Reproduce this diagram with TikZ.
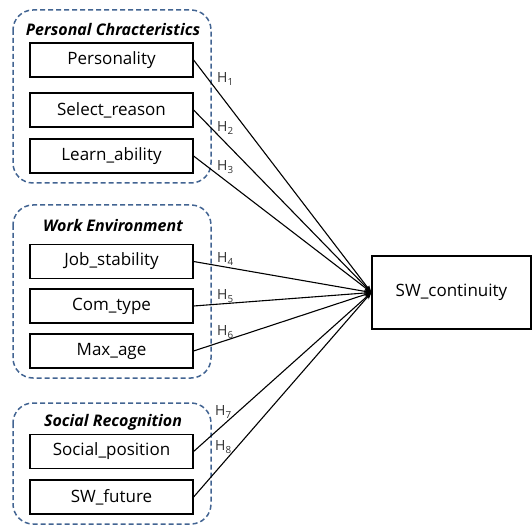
\documentclass[tikz,border=0pt]{standalone}
\usepackage{fontspec}
\setmainfont{Open Sans}
\usetikzlibrary{arrows.meta}
\definecolor{grpblue}{RGB}{66,100,146}
\definecolor{hgray}{RGB}{50,50,50}
\begin{document}
\begin{tikzpicture}[x=1pt,y=-1pt,
  varbox/.style={draw=black,line width=1.2pt,minimum width=163pt,minimum height=34pt,inner sep=0pt,font=\fontsize{17}{20}\selectfont},
  grp/.style={draw=grpblue,line width=1.5pt,dash pattern=on 5pt off 3pt,rounded corners=20pt},
  grptitle/.style={font=\fontsize{16}{19}\selectfont\bfseries\itshape,inner sep=0pt},
  hyp/.style={draw=black,line width=1.1pt,-{Stealth[length=7pt,width=5pt]}},
  hlab/.style={font=\fontsize{14}{16}\selectfont,text=hgray,inner sep=0pt,anchor=west}
]
\useasboundingbox (0,0) rectangle (532,526);
% groups
\draw[grp] (13,10) rectangle (211,183);
\draw[grp] (13,205) rectangle (211,378);
\draw[grp] (13,403) rectangle (211,524);
\node[grptitle] (t1) at (113,30) {Personal Chracteristics};
\node[grptitle] (t2) at (113,226) {Work Environment};
\node[grptitle] (t3) at (113,422) {Social Recognition};
% variables
\node[varbox] (p1) at (111.5,60) {Personality};
\node[varbox] (p2) at (111.5,110) {Select\_reason};
\node[varbox] (p3) at (111.5,156) {Learn\_ability};
\node[varbox] (w1) at (111.5,261.5) {Job\_stability};
\node[varbox] (w2) at (111.5,306) {Com\_type};
\node[varbox] (w3) at (111.5,351) {Max\_age};
\node[varbox] (s1) at (111.5,451.5) {Social\_position};
\node[varbox] (s2) at (111.5,497) {SW\_future};
\node[varbox,minimum width=159pt,minimum height=73pt] (sw) at (451.5,292.5) {SW\_continuity};
% hypotheses
\foreach \n in {p1,p2,p3,w1,w2,w3,s1,s2}{\draw[hyp] (\n.east) -- (sw.west);}
\node[hlab] (h1) at (217,79) {H\textsubscript{1}};
\node[hlab] (h2) at (217,128) {H\textsubscript{2}};
\node[hlab] (h3) at (217,167) {H\textsubscript{3}};
\node[hlab] (h4) at (217,259) {H\textsubscript{4}};
\node[hlab] (h5) at (217,296) {H\textsubscript{5}};
\node[hlab] (h6) at (217,332) {H\textsubscript{6}};
\node[hlab] (h7) at (215,412) {H\textsubscript{7}};
\node[hlab] (h8) at (215,447) {H\textsubscript{8}};
\end{tikzpicture}
\end{document}
